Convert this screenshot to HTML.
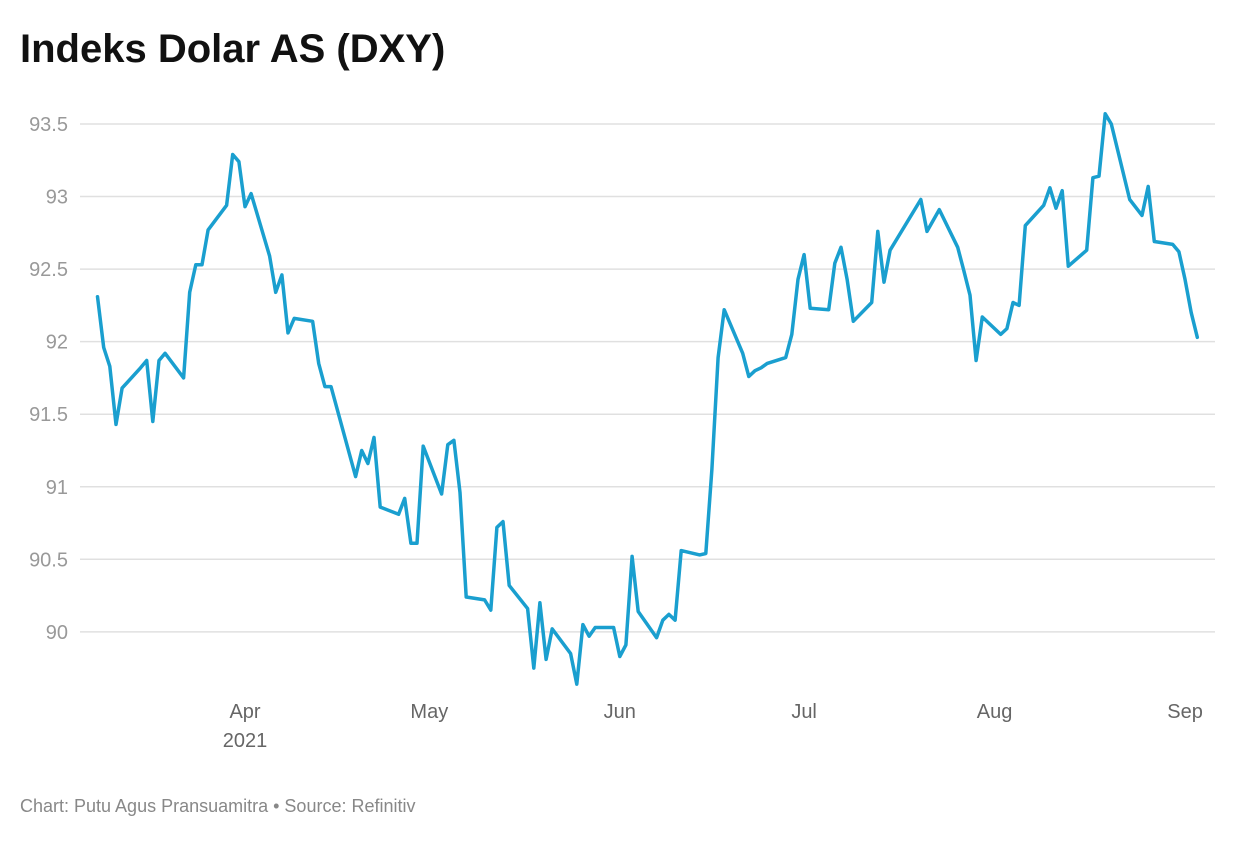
<!DOCTYPE html>
<html><head><meta charset="utf-8"><style>
body{margin:0;background:#fff;width:1240px;height:840px;overflow:hidden;font-family:"Liberation Sans",Arial,sans-serif}
</style></head><body>
<svg width="1240" height="840" xmlns="http://www.w3.org/2000/svg">
<text x="20" y="62" font-size="40" font-weight="bold" fill="#111">Indeks Dolar AS (DXY)</text>
<g id="grid"></g>
<g id="yt"></g>
<g id="xt"></g>
<g id="ln"></g>
<text x="20" y="812" font-size="18" fill="#888">Chart: Putu Agus Pransuamitra • Source: Refinitiv</text>
</svg>
<script>
const days=[67,68,69,70,71,74,75,76,77,78,81,82,83,84,85,88,89,90,91,92,95,96,97,98,99,102,103,104,105,109,110,111,112,113,116,117,118,119,120,123,124,125,126,127,130,131,132,133,134,137,138,139,140,141,144,145,146,147,148,151,152,153,154,155,158,159,160,161,162,165,166,167,168,169,172,173,174,175,176,179,180,181,182,183,186,187,188,189,190,193,194,195,196,201,202,204,207,208,209,210,211,214,215,216,217,218,221,222,223,224,225,228,229,230,231,232,235,237,238,239,242,243,244,245,246];
const values=[92.31,91.96,91.83,91.43,91.68,91.82,91.87,91.45,91.87,91.92,91.75,92.34,92.53,92.53,92.77,92.94,93.29,93.24,92.93,93.02,92.59,92.34,92.46,92.06,92.16,92.14,91.85,91.69,91.69,91.07,91.25,91.16,91.34,90.86,90.81,90.92,90.61,90.61,91.28,90.95,91.29,91.32,90.96,90.24,90.22,90.15,90.72,90.76,90.32,90.16,89.75,90.20,89.81,90.02,89.85,89.64,90.05,89.97,90.03,90.03,89.83,89.91,90.52,90.14,89.96,90.08,90.12,90.08,90.56,90.53,90.54,91.12,91.89,92.22,91.92,91.76,91.80,91.82,91.85,91.89,92.05,92.43,92.60,92.23,92.22,92.54,92.65,92.43,92.14,92.27,92.76,92.41,92.63,92.98,92.76,92.91,92.65,92.49,92.32,91.87,92.17,92.05,92.09,92.27,92.25,92.80,92.94,93.06,92.92,93.04,92.52,92.63,93.13,93.14,93.57,93.50,92.98,92.87,93.07,92.69,92.67,92.62,92.43,92.20,92.03];
const yTicks=[90,90.5,91,91.5,92,92.5,93,93.5];
const yLabels=["90","90.5","91","91.5","92","92.5","93","93.5"];
const xTickDays=[91,121,152,182,213,244];
const xLabels=["Apr","May","Jun","Jul","Aug","Sep"];
const NS="http://www.w3.org/2000/svg";
const x=d=>245+(d-91)*6.144;
const y=v=>124+(93.5-v)*145.1;
function mk(t,a,p){const e=document.createElementNS(NS,t);for(const k in a)e.setAttribute(k,a[k]);p.appendChild(e);return e;}
const grid=document.getElementById('grid'),yt=document.getElementById('yt'),xt=document.getElementById('xt'),ln=document.getElementById('ln');
yTicks.forEach((v,i)=>{
 const l=mk('line',{x1:80,x2:1215,y1:y(v),y2:y(v),stroke:'#e0e0e0','stroke-width':1.5},grid);
 
 
 const t=mk('text',{x:68,y:y(v)+7,'text-anchor':'end','font-size':20,fill:'#999'},yt);
 t.textContent=yLabels[i];
 
 
});
xTickDays.forEach((d,i)=>{
 const t=mk('text',{x:x(d),y:718,'text-anchor':'middle','font-size':20,fill:'#666'},xt);
 t.textContent=xLabels[i];
 
 
});
const yr=mk('text',{x:x(91),y:747,'text-anchor':'middle','font-size':20,fill:'#666'},xt);
yr.textContent='2021';


const pts=days.map((d,i)=>x(d).toFixed(1)+','+y(values[i]).toFixed(1)).join(' ');
const pl=mk('polyline',{points:pts,fill:'none',stroke:'#1a9fcf','stroke-width':3.5,'stroke-linejoin':'round','stroke-linecap':'round'},ln);


</script>
</body></html>
